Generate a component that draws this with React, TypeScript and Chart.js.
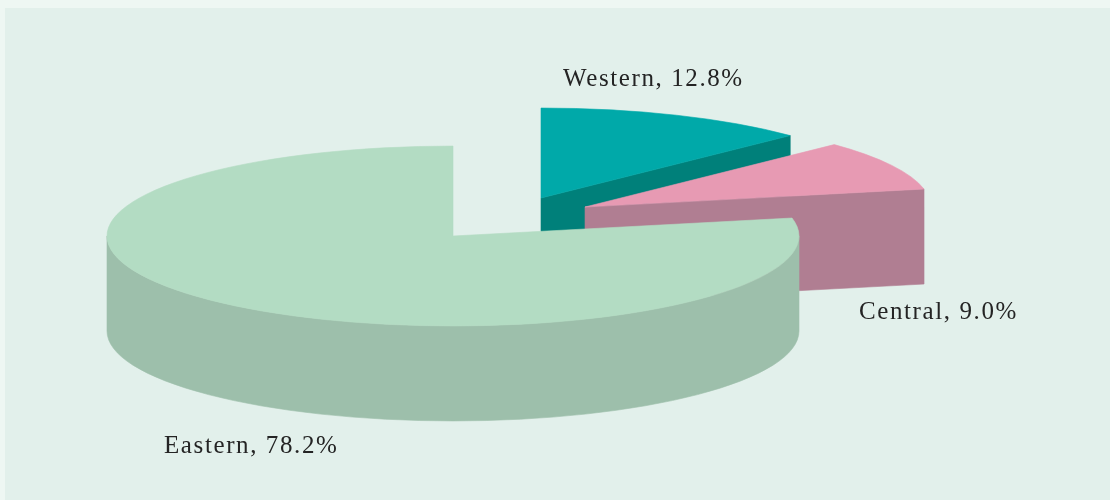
import React, { useEffect, useRef } from 'react';
import { Chart, registerables } from 'chart.js';

Chart.register(...registerables);

// ---- data ----
const regions = ['Western', 'Central', 'Eastern'];
const shares = [12.8, 9.0, 78.2];
const labelTexts = regions.map((r, i) => `${r}, ${shares[i].toFixed(1)}%`);

// ---- styles ----
const topColors = ['#00a9a9', '#e79ab3', '#b3dcc3'];
const sideColors = ['#00807a', '#b07e92', '#9dbfab'];

const pie3d = {
  id: 'pie3d',
  beforeDraw(chart: any) {
    const { ctx, width, height } = chart;
    ctx.save();
    ctx.fillStyle = '#eef7f3';
    ctx.fillRect(0, 0, width, height);
    ctx.fillStyle = '#e2f0eb';
    ctx.fillRect(5, 8, width - 5, height - 8);
    ctx.restore();
  },
  beforeDatasetsDraw(chart: any, _args: any, opts: any) {
    const ctx = chart.ctx;
    const meta = chart.getDatasetMeta(0);
    const TWO_PI = Math.PI * 2;
    ctx.save();
    meta.data.forEach((arc: any, i: number) => {
      const p = arc.getProps(['x', 'y', 'startAngle', 'endAngle', 'outerRadius'], true);
      const ex = opts.explode[i] || [0, 0];
      const cx = p.x + ex[0];
      const cy = p.y + ex[1];
      const rx = p.outerRadius;
      const ry = p.outerRadius * opts.tilt;
      const d = opts.depth;
      const s = p.startAngle;
      const e = p.endAngle;
      const side = sideColors[i];
      const top = topColors[i];
      const paint = (c: string) => {
        ctx.fillStyle = c;
        ctx.strokeStyle = c;
        ctx.lineWidth = 0.6;
        ctx.fill();
        ctx.stroke();
      };
      const face = (a: number) => {
        const px = cx + rx * Math.cos(a);
        const py = cy + ry * Math.sin(a);
        ctx.beginPath();
        ctx.moveTo(cx, cy);
        ctx.lineTo(px, py);
        ctx.lineTo(px, py + d);
        ctx.lineTo(cx, cy + d);
        ctx.closePath();
        paint(side);
      };
      const wall = (a: number, b: number) => {
        ctx.beginPath();
        ctx.ellipse(cx, cy, rx, ry, 0, a, b);
        ctx.lineTo(cx + rx * Math.cos(b), cy + ry * Math.sin(b) + d);
        ctx.ellipse(cx, cy + d, rx, ry, 0, b, a, true);
        ctx.closePath();
        paint(side);
      };
      if (Math.cos(s) < -1e-6) face(s);
      if (Math.cos(e) > 1e-6) face(e);
      for (const n of [-1, 0, 1]) {
        const lo = Math.max(s, TWO_PI * n);
        const hi = Math.min(e, TWO_PI * n + Math.PI);
        if (hi > lo) wall(lo, hi);
      }
      ctx.beginPath();
      ctx.moveTo(cx, cy);
      ctx.ellipse(cx, cy, rx, ry, 0, s, e);
      ctx.closePath();
      paint(top);
    });
    ctx.restore();
    return false;
  },
  afterDraw(chart: any, _args: any, opts: any) {
    const ctx = chart.ctx;
    const meta = chart.getDatasetMeta(0);
    const first = meta.data[0];
    if (!first) return;
    const c = first.getProps(['x', 'y'], true);
    ctx.save();
    ctx.font = '25px "Liberation Serif", "Times New Roman", serif';
    (ctx as any).letterSpacing = '1.6px';
    ctx.fillStyle = '#242424';
    ctx.textAlign = 'left';
    ctx.textBaseline = 'alphabetic';
    labelTexts.forEach((t, i) => {
      const o = opts.labelOffsets[i];
      ctx.fillText(t, c.x + o[0], c.y + o[1]);
    });
    ctx.restore();
  },
};

export default function App() {
  const ref = useRef<HTMLCanvasElement | null>(null);
  useEffect(() => {
    if (!ref.current) return;
    const chart = new Chart(ref.current, {
      type: 'pie',
      data: {
        labels: regions,
        datasets: [
          {
            data: shares,
            backgroundColor: topColors,
            borderWidth: 0,
            radius: 346,
          } as any,
        ],
      },
      options: {
        animation: false,
        responsive: true,
        maintainAspectRatio: false,
        layout: { padding: { left: 0, right: 204, top: 0, bottom: 28 } },
        plugins: {
          legend: { display: false },
          tooltip: { enabled: false },
          pie3d: {
            tilt: 0.26,
            depth: 95,
            explode: [
              [88, -38],
              [132, -29],
              [0, 0],
            ],
            labelOffsets: [
              [110, -150],
              [406, 83],
              [-289, 217],
            ],
          },
        } as any,
      },
      plugins: [pie3d as any],
    });
    return () => chart.destroy();
  }, []);
  return (
    <div style={{ position: 'absolute', left: 0, top: 0, width: 1110, height: 500 }}>
      <canvas ref={ref} />
    </div>
  );
}
